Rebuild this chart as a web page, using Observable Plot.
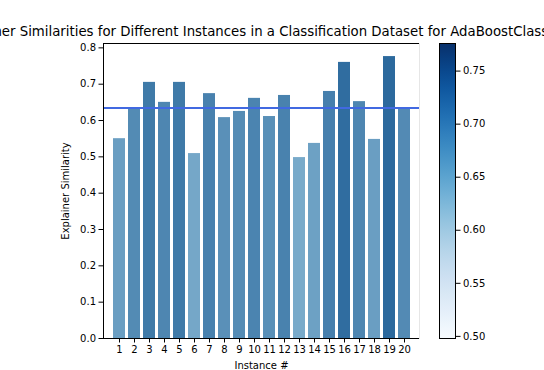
<!DOCTYPE html>
<html>
<head>
<meta charset="utf-8">
<script src="https://cdn.jsdelivr.net/npm/d3@7"></script>
<script src="https://cdn.jsdelivr.net/npm/@observablehq/plot@0.6"></script>
<style>
  html, body { margin: 0; padding: 0; background: #fff; overflow: hidden; }
  #wrap { position: relative; width: 544px; height: 370px; }
  #wrap svg { position: absolute; left: 0; top: 0; overflow: visible; }
</style>
</head>
<body>
<div id="wrap"></div>
<script>
const instances = ["1","2","3","4","5","6","7","8","9","10","11","12","13","14","15","16","17","18","19","20"];
const similarity = [0.550, 0.632, 0.705, 0.650, 0.705, 0.509, 0.674, 0.608, 0.625, 0.661,
                    0.611, 0.669, 0.498, 0.537, 0.680, 0.760, 0.652, 0.548, 0.776, 0.633];
const yTicks = [0.0, 0.1, 0.2, 0.3, 0.4, 0.5, 0.6, 0.7, 0.8];
const colorbarTicks = [0.50, 0.55, 0.60, 0.65, 0.70, 0.75];
const titleText = "Explainer Similarities for Different Instances in a Classification Dataset for AdaBoostClassifier";
const xLabel = "Instance #";
const yLabel = "Explainer Similarity";

const data = instances.map((k, i) => ({instance: k, value: similarity[i]}));
const meanValue = d3.mean(similarity);
const extent = d3.extent(similarity);
const FONT = "DejaVu Sans, sans-serif";

const W = 544, H = 370;
const mL = 103, mR = 125, mT = 43, mB = 32;

const main = Plot.plot({
  width: W, height: H,
  marginLeft: mL, marginRight: mR, marginTop: mT, marginBottom: mB,
  style: {fontFamily: FONT, fontSize: "10px", color: "#000", background: "transparent"},
  x: {type: "band", domain: instances, paddingInner: 0.2, paddingOuter: 0.1, label: null},
  y: {domain: [0, 0.812], label: null},
  color: {type: "linear", domain: extent, range: ["#78aaca", "#2c699d"], interpolate: "rgb"},
  marks: [
    Plot.barY(data, {x: "instance", y: "value", fill: "value"}),
    Plot.ruleY([meanValue], {stroke: "#4169e1", strokeWidth: 2}),
    Plot.frame({anchor: "left", stroke: "#000", strokeWidth: 1}),
    Plot.frame({anchor: "bottom", stroke: "#000", strokeWidth: 1}),
    Plot.frame({anchor: "top", stroke: "#000", strokeWidth: 1}),
    Plot.frame({anchor: "right", stroke: "#e6e6e6", strokeWidth: 1}),
    Plot.axisY({ticks: yTicks, tickFormat: d3.format(".1f"), tickSize: 4.5, tickPadding: 3,
                fontSize: 10, label: yLabel, labelAnchor: "center", labelOffset: 42, labelArrow: "none"}),
    Plot.axisX({tickSize: 4.5, tickPadding: 3, fontSize: 10, label: xLabel,
                labelAnchor: "center", labelOffset: 30, labelArrow: "none"}),
    Plot.text([titleText], {frameAnchor: "top", text: d => d, dx: 2, dy: -8, fontSize: 13.3, lineAnchor: "bottom"})
  ]
});

const cbL = 439, cbR = 544 - 455;
const bar = Plot.plot({
  width: W, height: H,
  marginLeft: cbL, marginRight: cbR, marginTop: mT, marginBottom: mB,
  style: {fontFamily: FONT, fontSize: "10px", color: "#000", background: "transparent"},
  x: {domain: [0, 1], axis: null},
  y: {domain: extent, label: null},
  marks: [
    Plot.frame({fill: "url(#cbgrad)", stroke: "none"}),
    Plot.frame({stroke: "#000", strokeWidth: 1}),
    Plot.axisY({anchor: "right", ticks: colorbarTicks, tickFormat: d3.format(".2f"),
                tickSize: 4.5, tickPadding: 3, fontSize: 10, label: null})
  ]
});
// vertical gradient for the colour bar (Blues scheme over the data extent)
const ns = "http://www.w3.org/2000/svg";
const defs = document.createElementNS(ns, "defs");
const grad = document.createElementNS(ns, "linearGradient");
grad.setAttribute("id", "cbgrad");
grad.setAttribute("x1", "0"); grad.setAttribute("y1", "1");
grad.setAttribute("x2", "0"); grad.setAttribute("y2", "0");
for (let i = 0; i <= 20; i++) {
  const s = document.createElementNS(ns, "stop");
  s.setAttribute("offset", (i / 20).toString());
  s.setAttribute("stop-color", d3.interpolateBlues(i / 20));
  grad.appendChild(s);
}
defs.appendChild(grad);
bar.insertBefore(defs, bar.firstChild);

const wrap = document.getElementById("wrap");
wrap.appendChild(main);
wrap.appendChild(bar);
</script>
</body>
</html>
